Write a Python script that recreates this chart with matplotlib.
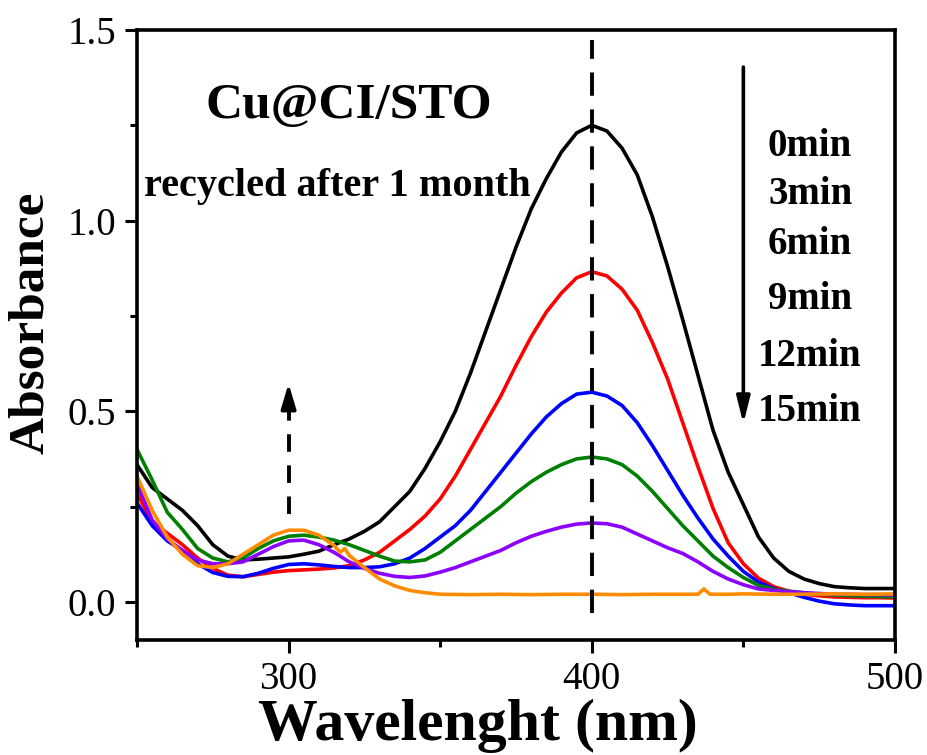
import matplotlib
matplotlib.use("Agg")
import matplotlib.pyplot as plt
from matplotlib.ticker import MultipleLocator

plt.rcParams['font.family'] = ['Liberation Serif', 'DejaVu Serif']

# wavelength grid (nm) for most curves
wl = [250, 255, 260, 265, 270, 275, 280, 285, 290, 295, 300, 305, 310, 315, 320,
      325, 330, 335, 340, 345, 350, 355, 360, 365, 370, 375, 380, 385, 390, 395,
      400, 405, 410, 415, 420, 425, 430, 435, 440, 445, 450, 455, 460, 465, 470,
      475, 480, 485, 490, 495, 500]

a_0min = [0.36, 0.30, 0.27, 0.24, 0.20, 0.15, 0.12, 0.11, 0.112, 0.115, 0.118, 0.125, 0.133, 0.15, 0.165,
          0.185, 0.21, 0.25, 0.29, 0.35, 0.42, 0.50, 0.60, 0.71, 0.82, 0.93, 1.03, 1.11, 1.18, 1.23,
          1.25, 1.235, 1.19, 1.12, 1.01, 0.88, 0.74, 0.595, 0.45, 0.34, 0.255, 0.17, 0.115, 0.08, 0.06,
          0.048, 0.04, 0.037, 0.035, 0.035, 0.035]
a_3min = [0.285, 0.21, 0.18, 0.15, 0.115, 0.088, 0.07, 0.066, 0.072, 0.078, 0.082, 0.084, 0.086, 0.089, 0.095,
          0.11, 0.13, 0.16, 0.19, 0.225, 0.27, 0.33, 0.40, 0.47, 0.54, 0.62, 0.695, 0.76, 0.81, 0.85,
          0.866, 0.855, 0.82, 0.765, 0.68, 0.585, 0.47, 0.355, 0.245, 0.155, 0.10, 0.062, 0.04, 0.028, 0.02,
          0.016, 0.013, 0.012, 0.011, 0.011, 0.01]
a_6min = [0.26, 0.20, 0.16, 0.135, 0.10, 0.077, 0.067, 0.066, 0.075, 0.088, 0.098, 0.10, 0.097, 0.093, 0.09,
          0.09, 0.092, 0.10, 0.115, 0.14, 0.17, 0.20, 0.24, 0.29, 0.34, 0.39, 0.44, 0.485, 0.52, 0.545,
          0.55, 0.54, 0.515, 0.47, 0.41, 0.345, 0.28, 0.22, 0.165, 0.12, 0.08, 0.052, 0.035, 0.024, 0.012,
          0.002, -0.005, -0.008, -0.01, -0.01, -0.01]
a_9min = [0.40, 0.32, 0.235, 0.19, 0.14, 0.115, 0.105, 0.115, 0.14, 0.16, 0.172, 0.175, 0.17, 0.162, 0.15,
          0.135, 0.12, 0.107, 0.105, 0.11, 0.13, 0.16, 0.19, 0.22, 0.25, 0.285, 0.315, 0.34, 0.36, 0.375,
          0.38, 0.375, 0.36, 0.33, 0.29, 0.245, 0.20, 0.16, 0.12, 0.09, 0.064, 0.043, 0.033, 0.028, 0.024,
          0.02, 0.018, 0.016, 0.015, 0.014, 0.013]
a_12min = [0.31, 0.215, 0.165, 0.135, 0.11, 0.10, 0.10, 0.105, 0.125, 0.145, 0.16, 0.162, 0.15, 0.13, 0.105,
           0.088, 0.075, 0.067, 0.064, 0.068, 0.078, 0.09, 0.105, 0.12, 0.135, 0.155, 0.172, 0.185, 0.196, 0.204,
           0.207, 0.205, 0.196, 0.178, 0.16, 0.142, 0.127, 0.105, 0.08, 0.06, 0.045, 0.034, 0.03, 0.027, 0.024,
           0.022, 0.02, 0.02, 0.019, 0.019, 0.018]

# 15 min curve has its own grid (small wiggles near 318 and 437 nm)
wl_15 = [250, 255, 260, 265, 270, 275, 280, 285, 290, 295, 300, 305, 310, 315, 317, 318.5, 320,
         325, 330, 335, 340, 345, 350, 360, 370, 380, 390, 400, 410, 420, 430, 435, 437, 439,
         445, 450, 460, 470, 480, 490, 500]
a_15min = [0.33, 0.24, 0.17, 0.125, 0.095, 0.09, 0.10, 0.125, 0.15, 0.175, 0.188, 0.188, 0.175, 0.148, 0.13, 0.14, 0.122,
           0.09, 0.06, 0.042, 0.03, 0.024, 0.02, 0.019, 0.02, 0.019, 0.02, 0.02, 0.019, 0.02, 0.02, 0.02, 0.034, 0.02,
           0.02, 0.021, 0.02, 0.02, 0.021, 0.02, 0.021]

times = ["0min", "3min", "6min", "9min", "12min", "15min"]
colors = ["black", "#ff0000", "#0000ff", "#008000", "#8b00ff", "#ff8c00"]

fig = plt.figure(figsize=(9.28, 7.55), dpi=100)
ax = fig.add_axes([0.1476, 0.1523, 0.8168, 0.808])

series = [(wl, a_0min), (wl, a_3min), (wl, a_6min), (wl, a_9min), (wl, a_12min), (wl_15, a_15min)]
for (x, y), c in zip(series, colors):
    ax.plot(x, y, color=c, lw=2.6)

ax.set_xlim(250, 500)
ax.set_ylim(-0.1, 1.5)

# dashed guide at 400 nm
ax.plot([400, 400], [-0.03, 1.475], color="black", lw=2.8, ls=(0, (6, 3.5)))

# dashed up arrow at 300 nm
ax.plot([300, 300], [0.23, 0.52], color="black", lw=2.8, ls=(0, (4.5, 3.5)))
ax.annotate("", xy=(300, 0.58), xytext=(300, 0.50),
            arrowprops=dict(arrowstyle="-|>,head_width=0.45,head_length=1.5", color="black", lw=2.6))

# down arrow
ax.annotate("", xy=(450, 0.46), xytext=(450, 1.41),
            arrowprops=dict(arrowstyle="-|>,head_width=0.4,head_length=1.6", color="black", lw=2.6))

label_y = [1.195, 1.068, 0.937, 0.793, 0.643, 0.499]
for t, yy in zip(times, label_y):
    ax.text(472, yy, t, fontsize=28, fontweight="bold", ha="center", va="center")

ax.text(320, 1.30, "Cu@CI/STO", fontsize=37, fontweight="bold", ha="center", va="center")
ax.text(316, 1.09, "recycled after 1 month", fontsize=29, fontweight="bold", ha="center", va="center")

ax.set_xlabel("Wavelenght (nm)", fontsize=43, fontweight="bold")
ax.xaxis.label.set_va("baseline")
ax.xaxis.set_label_coords(0.45, -0.164)
ax.set_ylabel("Absorbance", fontsize=37, fontweight="bold")
ax.yaxis.label.set_va("center")
ax.yaxis.set_label_coords(-0.14, 0.52)

ax.xaxis.set_major_locator(MultipleLocator(100))
ax.xaxis.set_minor_locator(MultipleLocator(50))
ax.yaxis.set_major_locator(MultipleLocator(0.5))
ax.yaxis.set_minor_locator(MultipleLocator(0.25))
ax.tick_params(which="both", direction="out", width=2.2, labelsize=28, top=False, right=False)
ax.tick_params(which="major", length=9, pad=6)
ax.tick_params(which="minor", length=5)
for s in ax.spines.values():
    s.set_linewidth(2.6)

fig.savefig("out.png", dpi=100)
